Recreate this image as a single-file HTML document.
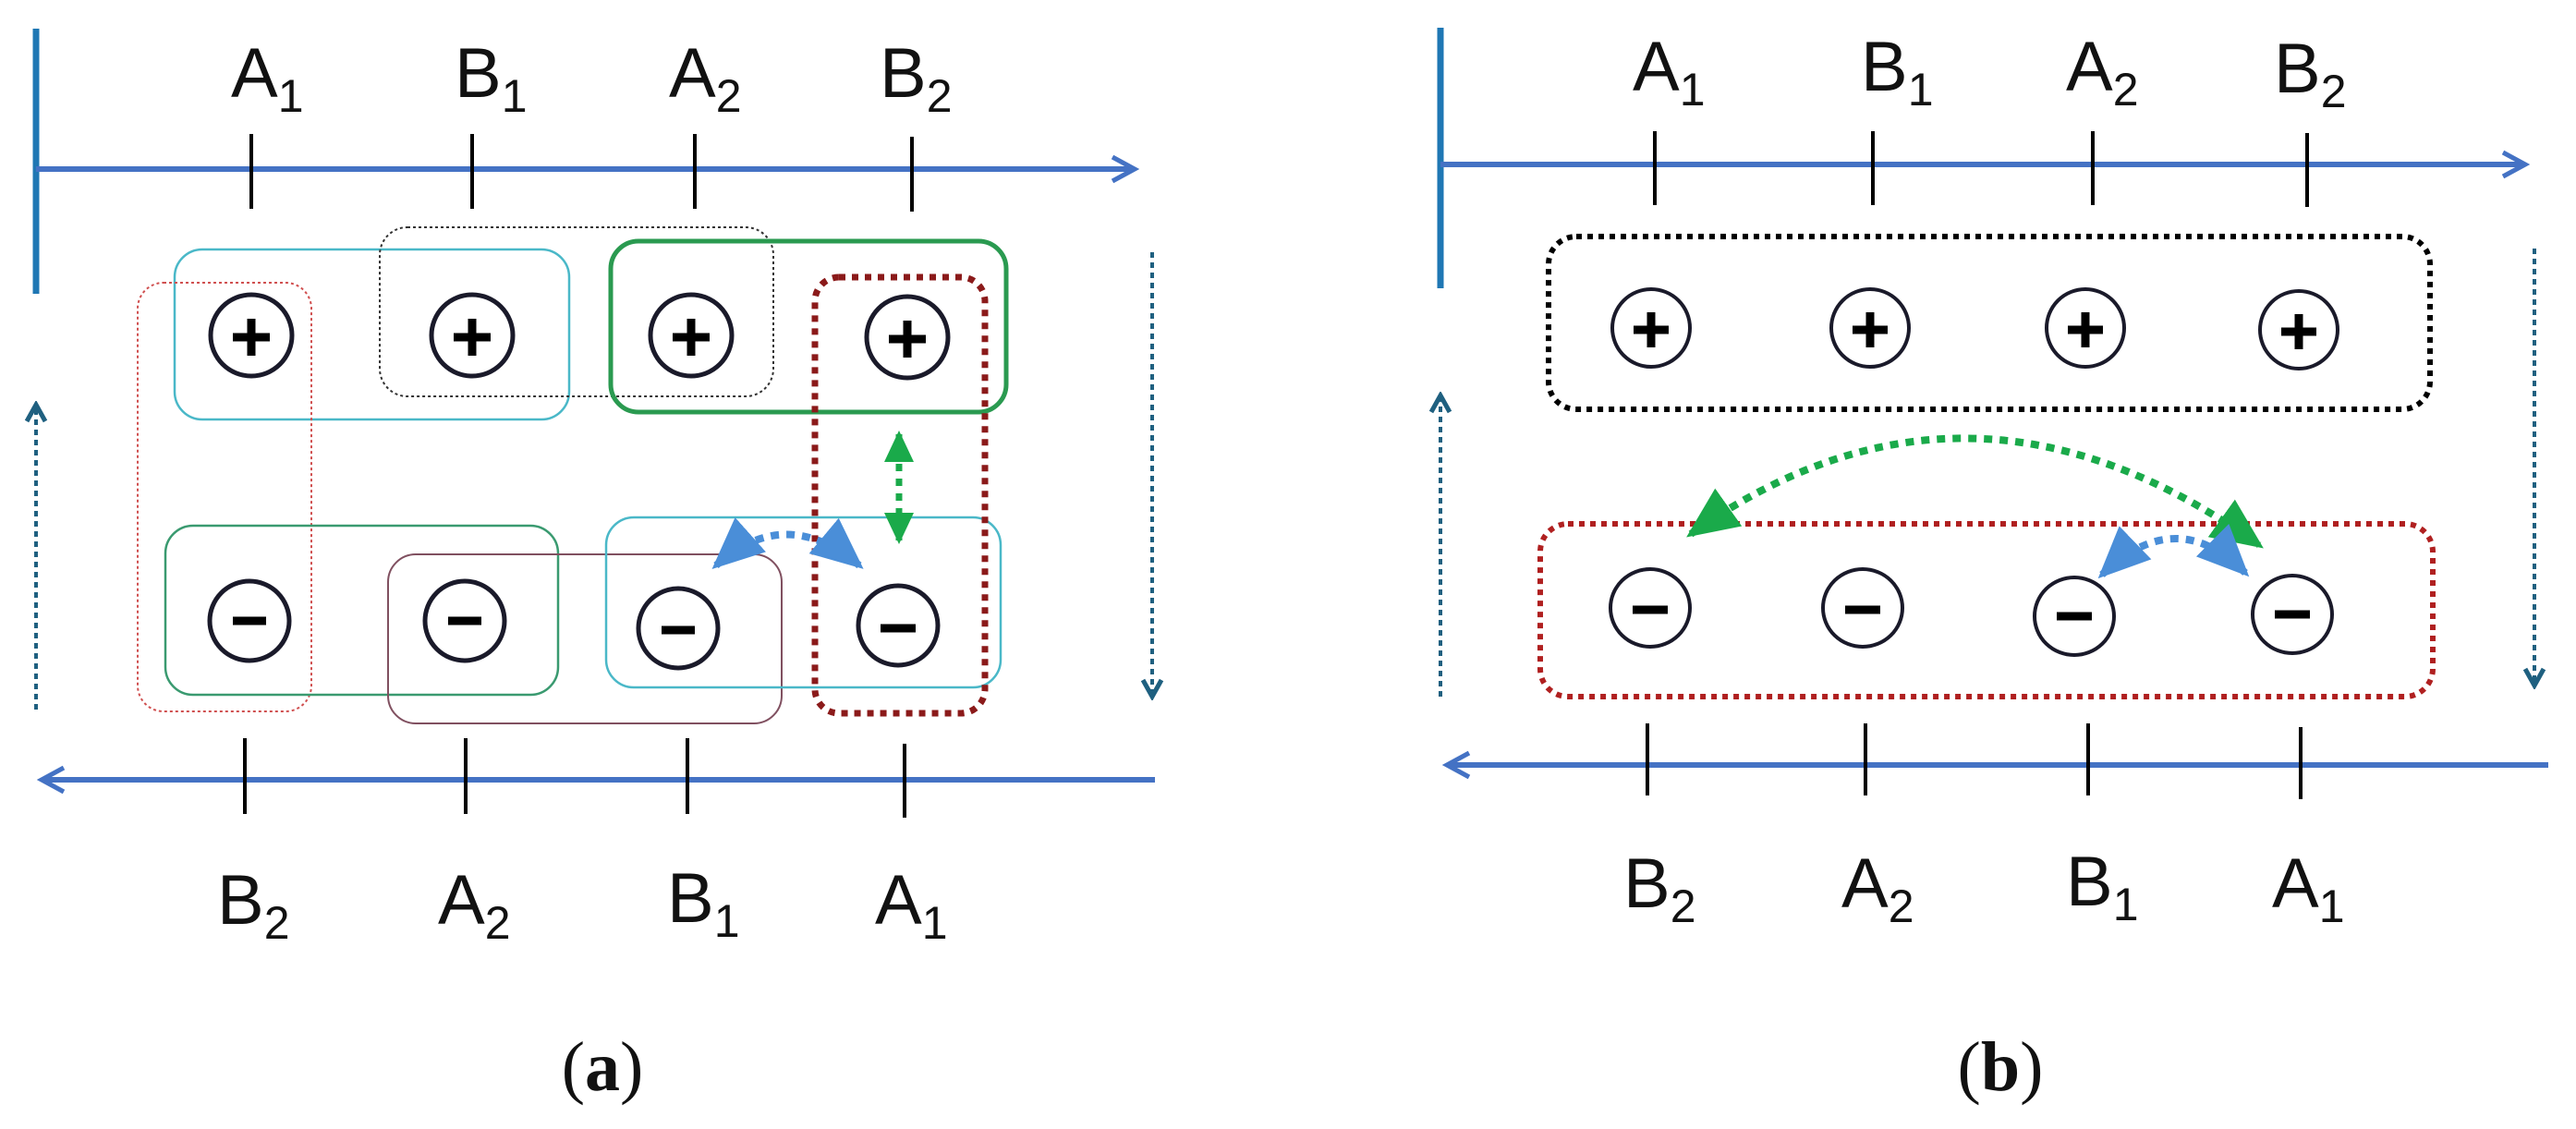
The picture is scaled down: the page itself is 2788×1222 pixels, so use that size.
<!DOCTYPE html>
<html><head><meta charset="utf-8"><style>
html,body{margin:0;padding:0;background:#fff}
svg{display:block}
.lbl{font-family:"Liberation Sans",sans-serif;font-size:76px;fill:#111}
.sub{font-size:50px}
.cap{font-family:"Liberation Serif",serif;font-size:76px;fill:#111}
</style></head><body>
<svg width="2788" height="1222" viewBox="0 0 2788 1222" xmlns="http://www.w3.org/2000/svg">
<defs>
<marker id="ah" markerWidth="10" markerHeight="10" refX="8" refY="5" orient="auto" markerUnits="userSpaceOnUse" viewBox="0 0 10 10"><path d="M0,0 L9,5 L0,10" fill="none" stroke="#4472c4" stroke-width="1.5"/></marker>
<marker id="td" markerWidth="26" markerHeight="26" refX="20" refY="13" orient="auto" markerUnits="userSpaceOnUse"><path d="M4,3 L22,13 L4,23" fill="none" stroke="#1f6080" stroke-width="5"/></marker>
<marker id="gb" markerWidth="36" markerHeight="36" refX="30" refY="18" orient="auto-start-reverse" markerUnits="userSpaceOnUse"><path d="M0,2 L34,18 L0,34 Z" fill="#1aaa4a"/></marker>
<marker id="bb" markerWidth="60" markerHeight="60" refX="50" refY="30" orient="auto-start-reverse" markerUnits="userSpaceOnUse"><path d="M0,5 L56,30 L0,55 Z" fill="#4a8ed8"/></marker>
<marker id="gbig" markerWidth="60" markerHeight="60" refX="50" refY="30" orient="auto-start-reverse" markerUnits="userSpaceOnUse"><path d="M0,5 L56,30 L0,55 Z" fill="#1aaa4a"/></marker>
</defs>

<!-- ===== Panel (a) ===== -->
<line x1="39" y1="31" x2="39" y2="318" stroke="#1f77b4" stroke-width="7"/>
<line x1="39" y1="183" x2="1226" y2="183" stroke="#4472c4" stroke-width="6"/>
<path d="M1204,170 L1228,183 L1204,196" fill="none" stroke="#4472c4" stroke-width="5"/>
<g stroke="#000" stroke-width="4">
<line x1="272" y1="145" x2="272" y2="226"/><line x1="511" y1="145" x2="511" y2="226"/>
<line x1="752" y1="145" x2="752" y2="226"/><line x1="987" y1="148" x2="987" y2="229"/>
</g>
<g class="lbl">
<text x="250" y="105">A<tspan class="sub" dy="16">1</tspan></text>
<text x="492" y="105">B<tspan class="sub" dy="16">1</tspan></text>
<text x="724" y="105">A<tspan class="sub" dy="16">2</tspan></text>
<text x="952" y="105">B<tspan class="sub" dy="16">2</tspan></text>
</g>
<!-- boxes -->
<rect x="189" y="270" width="427" height="184" rx="30" fill="none" stroke="#4ab8c8" stroke-width="2.5"/>
<rect x="411" y="246" width="426" height="183" rx="30" fill="none" stroke="#333" stroke-width="2" stroke-dasharray="3 3"/>
<rect x="661" y="261" width="428" height="185" rx="30" fill="none" stroke="#2a9a50" stroke-width="5"/>
<rect x="149" y="306" width="188" height="464" rx="28" fill="none" stroke="#d05050" stroke-width="2" stroke-dasharray="3 3"/>
<rect x="179" y="569" width="425" height="183" rx="30" fill="none" stroke="#3a9a70" stroke-width="2.5"/>
<rect x="420" y="600" width="426" height="183" rx="30" fill="none" stroke="#805060" stroke-width="2"/>
<rect x="656" y="560" width="427" height="184" rx="30" fill="none" stroke="#4ab8c8" stroke-width="2.5"/>
<rect x="882" y="300" width="184" height="472" rx="26" fill="none" stroke="#8b1a1a" stroke-width="7" stroke-dasharray="7 7"/>
<!-- circles -->
<g fill="#fff" stroke="#1a1a2a" stroke-width="5">
<circle cx="272" cy="363" r="44"/><circle cx="511" cy="363" r="44"/><circle cx="748" cy="363" r="44"/><circle cx="982" cy="365" r="44"/>
<circle cx="270" cy="672" r="43"/><circle cx="503" cy="672" r="43"/><circle cx="734" cy="680" r="43"/><circle cx="972" cy="677" r="43"/>
</g>
<g stroke="#000" stroke-width="9">
<line x1="252" y1="365" x2="292" y2="365"/><line x1="272" y1="345" x2="272" y2="385"/>
<line x1="491" y1="365" x2="531" y2="365"/><line x1="511" y1="345" x2="511" y2="385"/>
<line x1="728" y1="365" x2="768" y2="365"/><line x1="748" y1="345" x2="748" y2="385"/>
<line x1="962" y1="367" x2="1002" y2="367"/><line x1="982" y1="347" x2="982" y2="387"/>
<line x1="252" y1="672" x2="288" y2="672"/><line x1="485" y1="672" x2="521" y2="672"/>
<line x1="716" y1="682" x2="752" y2="682"/><line x1="953" y1="680" x2="991" y2="680"/>
</g>
<!-- arrows -->
<line x1="973" y1="470" x2="973" y2="585" stroke="#1aaa4a" stroke-width="7" stroke-dasharray="8 8" marker-start="url(#gb)" marker-end="url(#gb)"/>
<path d="M775,612 Q850,545 930,612" fill="none" stroke="#4a8ed8" stroke-width="8" stroke-dasharray="9 8" marker-start="url(#bb)" marker-end="url(#bb)"/>
<line x1="39" y1="768" x2="39" y2="440" stroke="#1f6080" stroke-width="4" stroke-dasharray="6 5" marker-end="url(#td)"/>
<line x1="1247" y1="273" x2="1247" y2="752" stroke="#1f6080" stroke-width="4" stroke-dasharray="6 5" marker-end="url(#td)"/>
<line x1="1250" y1="844" x2="47" y2="844" stroke="#4472c4" stroke-width="6"/>
<path d="M69,831 L45,844 L69,857" fill="none" stroke="#4472c4" stroke-width="5"/>
<g stroke="#000" stroke-width="4">
<line x1="265" y1="799" x2="265" y2="881"/><line x1="504" y1="799" x2="504" y2="881"/>
<line x1="744" y1="799" x2="744" y2="881"/><line x1="979" y1="805" x2="979" y2="885"/>
</g>
<g class="lbl">
<text x="235" y="1000">B<tspan class="sub" dy="16">2</tspan></text>
<text x="474" y="1000">A<tspan class="sub" dy="16">2</tspan></text>
<text x="722" y="998">B<tspan class="sub" dy="16">1</tspan></text>
<text x="947" y="1000">A<tspan class="sub" dy="16">1</tspan></text>
</g>
<text class="cap" x="652" y="1180" text-anchor="middle">(<tspan font-weight="bold">a</tspan>)</text>

<!-- ===== Panel (b) ===== -->
<line x1="1559" y1="30" x2="1559" y2="312" stroke="#1f77b4" stroke-width="7"/>
<line x1="1559" y1="178" x2="2731" y2="178" stroke="#4472c4" stroke-width="6"/>
<path d="M2709,165 L2733,178 L2709,191" fill="none" stroke="#4472c4" stroke-width="5"/>
<g stroke="#000" stroke-width="4">
<line x1="1791" y1="142" x2="1791" y2="222"/><line x1="2027" y1="142" x2="2027" y2="222"/>
<line x1="2265" y1="142" x2="2265" y2="222"/><line x1="2497" y1="144" x2="2497" y2="224"/>
</g>
<g class="lbl">
<text x="1767" y="98">A<tspan class="sub" dy="16">1</tspan></text>
<text x="2014" y="98">B<tspan class="sub" dy="16">1</tspan></text>
<text x="2236" y="98">A<tspan class="sub" dy="16">2</tspan></text>
<text x="2461" y="100">B<tspan class="sub" dy="16">2</tspan></text>
</g>
<rect x="1676" y="256" width="954" height="187" rx="30" fill="none" stroke="#000" stroke-width="6" stroke-dasharray="6 6"/>
<rect x="1667" y="567" width="966" height="187" rx="30" fill="none" stroke="#b02020" stroke-width="6" stroke-dasharray="6 6"/>
<g fill="#fff" stroke="#1a1a2a" stroke-width="4">
<circle cx="1787" cy="355" r="42"/><circle cx="2024" cy="355" r="42"/><circle cx="2257" cy="355" r="42"/><circle cx="2488" cy="357" r="42"/>
<ellipse cx="1786" cy="658" rx="43" ry="42"/><ellipse cx="2016" cy="658" rx="43" ry="42"/><ellipse cx="2245" cy="667" rx="43" ry="42"/><ellipse cx="2481" cy="665" rx="43" ry="42"/>
</g>
<g stroke="#000" stroke-width="9">
<line x1="1768" y1="357" x2="1806" y2="357"/><line x1="1787" y1="338" x2="1787" y2="376"/>
<line x1="2005" y1="357" x2="2043" y2="357"/><line x1="2024" y1="338" x2="2024" y2="376"/>
<line x1="2238" y1="357" x2="2276" y2="357"/><line x1="2257" y1="338" x2="2257" y2="376"/>
<line x1="2469" y1="359" x2="2507" y2="359"/><line x1="2488" y1="340" x2="2488" y2="378"/>
<line x1="1767" y1="660" x2="1805" y2="660"/><line x1="1997" y1="660" x2="2035" y2="660"/>
<line x1="2226" y1="667" x2="2264" y2="667"/><line x1="2462" y1="665" x2="2500" y2="665"/>
</g>
<path d="M1830,578 Q2130,365 2445,590" fill="none" stroke="#1aaa4a" stroke-width="8" stroke-dasharray="9 8" marker-start="url(#gbig)" marker-end="url(#gbig)"/>
<path d="M2275,622 Q2355,545 2430,620" fill="none" stroke="#4a8ed8" stroke-width="8" stroke-dasharray="9 8" marker-start="url(#bb)" marker-end="url(#bb)"/>
<line x1="1559" y1="754" x2="1559" y2="430" stroke="#1f6080" stroke-width="4" stroke-dasharray="6 5" marker-end="url(#td)"/>
<line x1="2743" y1="269" x2="2743" y2="740" stroke="#1f6080" stroke-width="4" stroke-dasharray="6 5" marker-end="url(#td)"/>
<line x1="2758" y1="828" x2="1568" y2="828" stroke="#4472c4" stroke-width="6"/>
<path d="M1590,815 L1566,828 L1590,841" fill="none" stroke="#4472c4" stroke-width="5"/>
<g stroke="#000" stroke-width="4">
<line x1="1783" y1="783" x2="1783" y2="861"/><line x1="2019" y1="783" x2="2019" y2="861"/>
<line x1="2260" y1="783" x2="2260" y2="861"/><line x1="2490" y1="787" x2="2490" y2="865"/>
</g>
<g class="lbl">
<text x="1757" y="982">B<tspan class="sub" dy="16">2</tspan></text>
<text x="1993" y="982">A<tspan class="sub" dy="16">2</tspan></text>
<text x="2236" y="980">B<tspan class="sub" dy="16">1</tspan></text>
<text x="2459" y="982">A<tspan class="sub" dy="16">1</tspan></text>
</g>
<text class="cap" x="2165" y="1180" text-anchor="middle">(<tspan font-weight="bold">b</tspan>)</text>
</svg>
</body></html>
